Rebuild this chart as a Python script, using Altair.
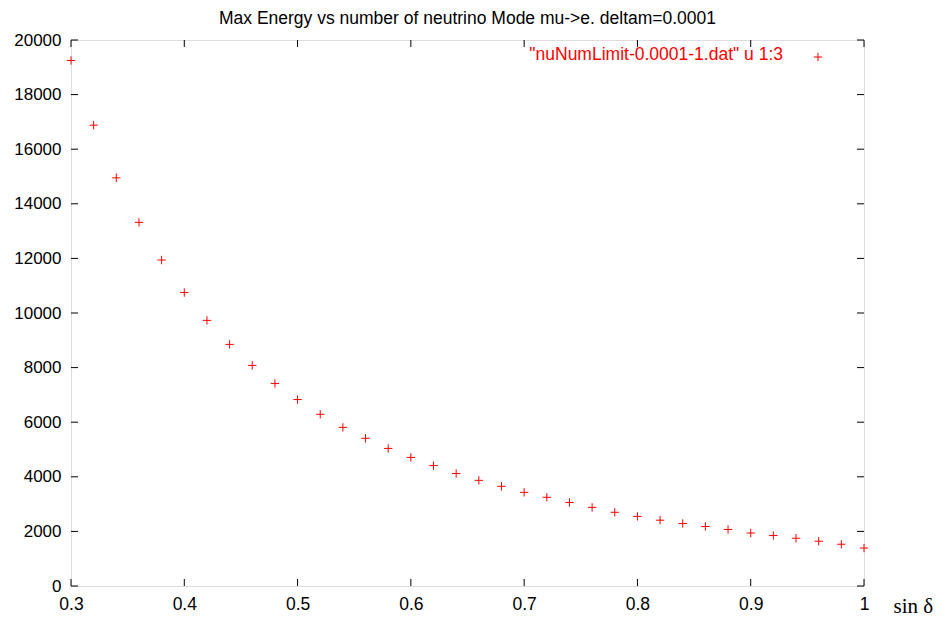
import altair as alt
import pandas as pd

sin_delta = [0.30, 0.32, 0.34, 0.36, 0.38, 0.40, 0.42, 0.44, 0.46, 0.48,
             0.50, 0.52, 0.54, 0.56, 0.58, 0.60, 0.62, 0.64, 0.66, 0.68,
             0.70, 0.72, 0.74, 0.76, 0.78, 0.80, 0.82, 0.84, 0.86, 0.88,
             0.90, 0.92, 0.94, 0.96, 0.98, 1.00]
max_energy = [19250, 16880, 14950, 13320, 11940, 10750, 9730, 8850, 8080, 7420,
              6830, 6290, 5810, 5410, 5040, 4710, 4410, 4120, 3870, 3650,
              3430, 3250, 3060, 2880, 2700, 2550, 2410, 2290, 2180, 2070,
              1940, 1850, 1750, 1640, 1530, 1390]
x_ticks = [0.3, 0.4, 0.5, 0.6, 0.7, 0.8, 0.9, 1.0]
y_ticks = [0, 2000, 4000, 6000, 8000, 10000, 12000, 14000, 16000, 18000, 20000]

legend_label = '"nuNumLimit-0.0001-1.dat" u 1:3'
title_text = "Max Energy vs number of neutrino Mode mu->e.  deltam=0.0001"

W, H = 793, 546
TICK = 7
RED = "#ff0000"
FONT = "Liberation Sans"
PLUS = "M-1,0L1,0M0,-1L0,1"
FS = 17.5

df = pd.DataFrame({"x": sin_delta, "y": max_energy})
xt = pd.DataFrame({"v": x_ticks})
yt = pd.DataFrame({"v": y_ticks})

xscale = alt.Scale(domain=[0.3, 1.0], nice=False, zero=False)
yscale = alt.Scale(domain=[0, 20000], nice=False)

points = alt.Chart(df).mark_point(
    shape=PLUS, filled=False, stroke=RED, strokeWidth=1, size=70, opacity=1
).encode(
    x=alt.X("x:Q", scale=xscale,
            axis=alt.Axis(values=x_ticks, format="~g", ticks=False, domain=False,
                          grid=False, labelPadding=9, labelFont=FONT, labelFontSize=FS,
                          labelColor="black", labelFlush=False, labelOverlap=False,
                          title="sin δ", titleFont="Liberation Serif",
                          titleFontSize=21, titleFontWeight="normal", titleColor="black",
                          titleAlign="left", titleBaseline="alphabetic",
                          titleX=822, titleY=26, titleAnchor="start")),
    y=alt.Y("y:Q", scale=yscale,
            axis=alt.Axis(values=y_ticks, format="d", ticks=False, domain=False,
                          grid=False, labelPadding=10, labelFont=FONT, labelFontSize=17,
                          labelColor="black", labelFlush=False, labelOverlap=False,
                          title=None)),
)

xb = alt.Chart(xt).mark_rule(color="black", strokeWidth=1).encode(
    x=alt.X("v:Q", scale=xscale), y=alt.value(H), y2=alt.value(H - TICK))
xtop = alt.Chart(xt).mark_rule(color="black", strokeWidth=1).encode(
    x=alt.X("v:Q", scale=xscale), y=alt.value(0), y2=alt.value(TICK))
yl = alt.Chart(yt).mark_rule(color="black", strokeWidth=1).encode(
    y=alt.Y("v:Q", scale=yscale), x=alt.value(0), x2=alt.value(TICK))
yr = alt.Chart(yt).mark_rule(color="black", strokeWidth=1).encode(
    y=alt.Y("v:Q", scale=yscale), x=alt.value(W), x2=alt.value(W - TICK))

leg = pd.DataFrame({"label": [legend_label]})
leg_text = alt.Chart(leg).mark_text(
    align="right", baseline="middle", font=FONT, fontSize=FS, color=RED
).encode(text="label:N", x=alt.value(712), y=alt.value(15))
leg_sym = alt.Chart(leg).mark_point(
    shape=PLUS, filled=False, stroke=RED, strokeWidth=1, size=70, opacity=1
).encode(x=alt.value(747), y=alt.value(17))

chart = alt.layer(xb, xtop, yl, yr, points, leg_text, leg_sym).properties(
    width=W, height=H,
    title=alt.TitleParams(title_text, font=FONT, fontSize=FS, fontWeight="normal",
                          color="black", anchor="middle", offset=4),
    autosize=alt.AutoSizeParams(type="none"),
    padding={"left": 63, "top": 32, "right": 74, "bottom": 34},
).configure_view(stroke="black", strokeWidth=1).configure(background="white")

chart.save("out.html", embed_options={"renderer": "svg", "actions": False})
